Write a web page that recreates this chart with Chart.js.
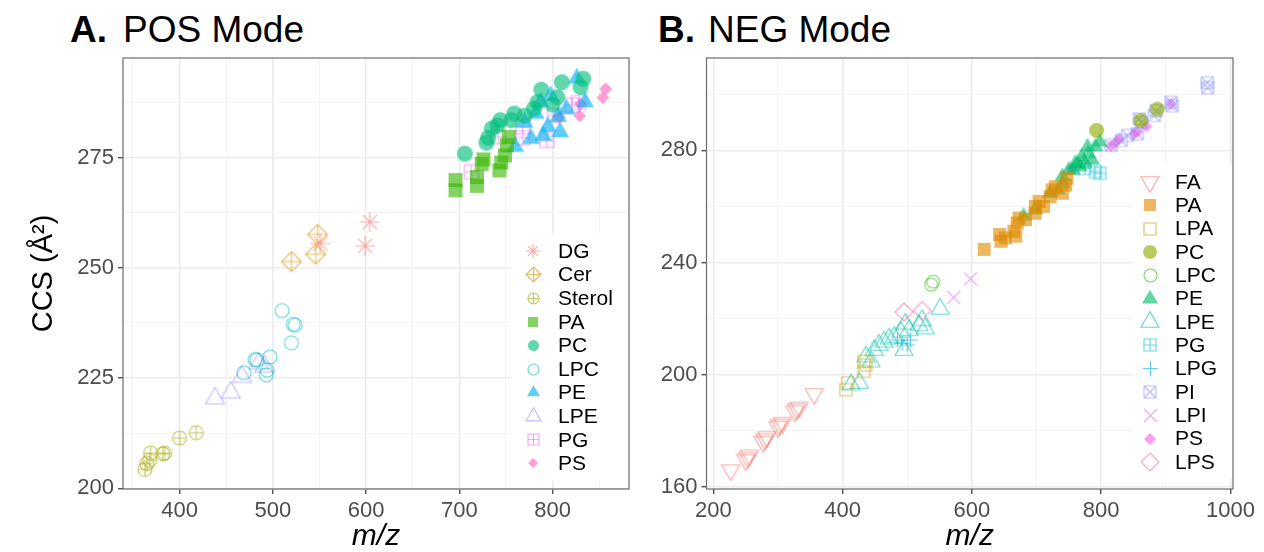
<!DOCTYPE html>
<html>
<head>
<meta charset="utf-8">
<script src="https://cdn.jsdelivr.net/npm/chart.js@4.4.0/dist/chart.umd.min.js"></script>
<style>
  html, body { margin: 0; padding: 0; background: #fff; }
  body { width: 1264px; height: 552px; position: relative; overflow: hidden; font-family: 'Liberation Sans', Arial, sans-serif; }
  canvas { position: absolute; top: 0; }
  .ttl { position: absolute; top: 11px; font-size: 37px; line-height: 1; color: #000; white-space: nowrap; }
  .ttl.b { font-weight: bold; }
</style>
</head>
<body>
<div class="ttl b" style="left:70px">A.</div>
<div class="ttl" style="left:123px">POS Mode</div>
<div class="ttl b" style="left:658px">B.</div>
<div class="ttl" style="left:708px">NEG Mode</div>
<canvas id="pos" width="640" height="552" style="left:0"></canvas>
<canvas id="neg" width="624" height="552" style="left:640px"></canvas>
<script>
// ---------------- DATA: POS mode ----------------
const posClasses = ['DG','Cer','Sterol','PA','PC','LPC','PE','LPE','PG','PS'];
const posDG = [[551,255.5],[599,255.0],[604,260.4]];
const posCer = [[520,251.4],[546,253.1],[548,257.6]];
const posSterol = [[363,204.3],[365,205.6],[368,206.3],[369,208.0],[382,207.8],[384,208.0],[400,211.4],[418,212.6]];
const posPA = [[696,269.9],[696,267.6],[719,270.6],[719,268.6],[724,273.6],[726,274.6],[743,272.1],[745,273.9],[749,275.5],[751,277.8],[753,279.7]];
const posPC = [[706,275.9],[729,278.4],[731,279.5],[735,281.6],[741,282.3],[744,283.5],[756,283.5],[759,285.0],[770,284.5],[780,286.1],[784,287.6],[788,290.4],[800,287.0],[805,288.7],[810,292.1],[830,291.0],[833,292.9]];
const posLPC = [[469,226.2],[481,229.2],[483,229.1],[497,229.8],[494,226.8],[493,225.7],[510,240.3],[522,237.2],[524,237.0],[520,233.0]];
const posPE = [[760,277.5],[777,279.3],[770,283.0],[782,285.0],[787,287.6],[790,280.0],[795,282.0],[798,289.0],[806,284.3],[808,280.8],[815,286.0],[826,293.0],[835,287.6]];
const posLPE = [[438,220.4],[455,221.7],[467,225.3],[485,228.3],[491,227.6]];
const posPG = [[713,271.8],[742,279.7],[768,279.5],[768,282.0],[794,278.9],[802,284.6],[821,286.9],[828,287.5]];
const posPS = [[807,284.2],[829,284.5],[830,287.2],[854,288.6],[857,290.6]];
const posSeries = [posDG,posCer,posSterol,posPA,posPC,posLPC,posPE,posLPE,posPG,posPS];

const posXTicks = [350,400,450,500,550,600,650,700,750,800,850];
const posXLabels = [400,500,600,700,800];
const posYTicks = [212.5,225,237.5,250,262.5,275,287.5];
const posYLabels = [200,225,250,275];

// ---------------- DATA: NEG mode ----------------
const negClasses = ['FA','PA','LPA','PC','LPC','PE','LPE','PG','LPG','PI','LPI','PS','LPS'];
const negFA = [[227,166.0],[250,169.6],[253,170.5],[256,171.3],[277,176.1],[280,177.0],[283,177.8],[300,181.5],[303,182.2],[307,182.9],[326,187.0],[329,187.8],[333,188.4],[356,193.2]];
const negPA = [[619,244.7],[643,250.0],[645,247.6],[652,248.8],[665,251.2],[668,249.4],[670,254.1],[673,255.9],[683,255.3],[698,257.6],[698,260.0],[704,261.8],[711,260.0],[721,263.5],[724,265.9],[729,267.0],[740,264.7],[745,267.6],[747,270.0]];
const negLPA = [[405,194.7],[408,197.1],[433,201.2],[433,204.7],[436,203.5]];
const negPC = [[793,287.1],[861,290.6],[887,294.7]];
const negLPC = [[537,232.1],[540,233.2]];
const negPE = [[680,256.5],[698,258.8],[721,264.7],[733,265.9],[740,270.6],[741,268.2],[750,272.9],[756,272.9],[760,275.3],[764,275.3],[767,274.1],[770,277.6],[775,275.3],[779,281.2],[780,278.8],[786,276.5],[791,281.2],[798,282.9]];
const negLPE = [[413,196.5],[426,197.1],[436,206.5],[444,204.7],[449,208.8],[456,210.6],[464,211.8],[472,212.9],[480,213.5],[490,215.3],[495,208.8],[497,218.2],[503,215.9],[518,217.6],[523,219.4],[528,216.5],[551,223.5]];
const negPG = [[775,273.5],[791,272.4],[798,271.8]];
const negLPG = [[485,212.4],[492,211.2],[500,210.6],[505,212.4]];
const negPI = [[815,281.8],[831,283.5],[841,285.3],[856,285.9],[859,291.2],[862,290.0],[882,292.4],[885,294.1],[908,297.1],[910,295.9],[964,304.1],[965,302.3]];
const negLPI = [[572,227.6],[598,234.2]];
const negPS = [[755,273.5],[815,281.5],[823,282.9],[828,284.1],[851,285.9],[856,286.5],[870,288.5],[908,296.5]];
const negLPS = [[495,222.4],[523,222.9]];
const negSeries = [negFA,negPA,negLPA,negPC,negLPC,negPE,negLPE,negPG,negLPG,negPI,negLPI,negPS,negLPS];

const negXTicks = [200,300,400,500,600,700,800,900,1000];
const negXLabels = [200,400,600,800,1000];
const negYTicks = [160,180,200,220,240,260,280,300];
const negYLabels = [160,200,240,280];

// ---------------- STYLE ----------------
const FONT = "'Liberation Sans', Arial, sans-serif";
const posColors = ['#F8766D','#D89000','#A3A500','#39B600','#00BF7D','#00BFC4','#00B0F6','#9590FF','#E76BF3','#FF62BC'];
const posShapes = ['star','diamondPlus','circlePlus','squareFill','circleFill','circleOpen','triFill','triOpen','squarePlus','diamondFill'];
const posSizes  = [20,20,14,14,16,14,18,19,14,13];
const posKeySizes = [14,15,11,10,11,11,13,15,11,10];
const negColors = ['#F8766D','#E18A00','#BE9C00','#8CAB00','#24B700','#00BE70','#00C1AB','#00BBDA','#00ACFC','#8B93FF','#D575FE','#F962DD','#FF65AC'];
const negShapes = ['triDown','squareFill','squareOpen','circleFill','circleOpen','triFill','triOpen','squarePlus','plus','squareCross','cross','diamondFill','diamondOpen'];
const negSizes  = [18,13,12,15,13,16,18,12,15,12,13,12,18];
const negKeySizes = [18,12,12,14,13,16,18,12,15,12,13,12,18];

function makeIcon(shape, color, s) {
  const pad = 3;
  const dim = Math.ceil(s + 2 * pad);
  const c = document.createElement('canvas');
  c.width = dim; c.height = dim;
  const g = c.getContext('2d');
  g.globalAlpha = 0.62;
  g.translate(dim / 2, dim / 2);
  g.strokeStyle = color; g.fillStyle = color; g.lineWidth = 1.1;
  const r = s / 2, h = s * 0.866;
  g.beginPath();
  switch (shape) {
    case 'star':
      for (let a = 0; a < 4; a++) { const t = a * Math.PI / 4; g.moveTo(r*Math.cos(t), r*Math.sin(t)); g.lineTo(-r*Math.cos(t), -r*Math.sin(t)); }
      g.stroke(); break;
    case 'diamondPlus':
      g.moveTo(0,-r); g.lineTo(r,0); g.lineTo(0,r); g.lineTo(-r,0); g.closePath();
      g.moveTo(0,-r); g.lineTo(0,r); g.moveTo(-r,0); g.lineTo(r,0); g.stroke(); break;
    case 'circlePlus':
      g.arc(0,0,r,0,Math.PI*2); g.moveTo(0,-r); g.lineTo(0,r); g.moveTo(-r,0); g.lineTo(r,0); g.stroke(); break;
    case 'squareFill': g.rect(-r,-r,s,s); g.fill(); break;
    case 'squareOpen': g.rect(-r,-r,s,s); g.stroke(); break;
    case 'squarePlus': g.rect(-r,-r,s,s); g.moveTo(0,-r); g.lineTo(0,r); g.moveTo(-r,0); g.lineTo(r,0); g.stroke(); break;
    case 'squareCross': g.rect(-r,-r,s,s); g.moveTo(-r,-r); g.lineTo(r,r); g.moveTo(r,-r); g.lineTo(-r,r); g.stroke(); break;
    case 'circleFill': g.arc(0,0,r,0,Math.PI*2); g.fill(); break;
    case 'circleOpen': g.arc(0,0,r,0,Math.PI*2); g.stroke(); break;
    case 'triFill': g.moveTo(0,-2*h/3); g.lineTo(r,h/3); g.lineTo(-r,h/3); g.closePath(); g.fill(); break;
    case 'triOpen': g.moveTo(0,-2*h/3); g.lineTo(r,h/3); g.lineTo(-r,h/3); g.closePath(); g.stroke(); break;
    case 'triDown': g.moveTo(0,2*h/3); g.lineTo(r,-h/3); g.lineTo(-r,-h/3); g.closePath(); g.stroke(); break;
    case 'plus': g.moveTo(0,-r); g.lineTo(0,r); g.moveTo(-r,0); g.lineTo(r,0); g.stroke(); break;
    case 'cross': g.moveTo(-r,-r); g.lineTo(r,r); g.moveTo(r,-r); g.lineTo(-r,r); g.stroke(); break;
    case 'diamondFill': g.moveTo(0,-r); g.lineTo(r,0); g.lineTo(0,r); g.lineTo(-r,0); g.closePath(); g.fill(); break;
    case 'diamondOpen': g.moveTo(0,-r); g.lineTo(r,0); g.lineTo(0,r); g.lineTo(-r,0); g.closePath(); g.stroke(); break;
  }
  return c;
}

function has(arr, v) { return arr.some(m => Math.abs(m - v) < 1e-6); }

function buildDatasets(classes, series, colors, shapes, sizes, keySizes) {
  return classes.map((name, i) => ({
    label: name,
    data: series[i].map(([x, y]) => ({ x, y })),
    pointStyle: makeIcon(shapes[i], colors[i], sizes[i]),
    legendIcon: makeIcon(shapes[i], colors[i], keySizes[i]),
    pointRadius: sizes[i] / 2,
    pointHoverRadius: sizes[i] / 2,
    borderColor: colors[i],
    backgroundColor: colors[i],
    showLine: false
  }));
}

// legend (inside the panel) + panel border
const ggPanel = {
  id: 'ggPanel',
  afterDatasetsDraw(chart, args, o) {
    const ctx = chart.ctx, a = chart.chartArea;
    ctx.save();
    ctx.fillStyle = '#fff';
    ctx.fillRect(o.box[0], o.box[1], o.box[2], o.box[3]);
    ctx.font = '21px ' + FONT;
    ctx.textBaseline = 'middle';
    ctx.textAlign = 'left';
    ctx.fillStyle = '#000';
    chart.data.datasets.forEach((ds, i) => {
      const y = o.y0 + i * o.dy;
      const img = ds.legendIcon;
      ctx.drawImage(img, Math.round(o.symX - img.width / 2), Math.round(y - img.height / 2));
      ctx.fillText(ds.label, o.textX, y + 1);
    });
    ctx.strokeStyle = '#6a6a6a';
    ctx.lineWidth = 1.2;
    ctx.strokeRect(a.left, a.top, a.right - a.left, a.bottom - a.top);
    ctx.restore();
  }
};

function axisCfg(min, max, ticks, labels, fitFn, title) {
  return {
    type: 'linear', min, max,
    afterBuildTicks: s => { s.ticks = ticks.concat(labels.filter(v => !has(ticks, v))).filter(v => v >= min && v <= max).sort((p, q) => p - q).map(v => ({ value: v })); },
    afterFit: fitFn,
    border: { display: false },
    grid: {
      drawTicks: true, tickLength: 5,
      color: c => has(labels, c.tick.value) ? '#EBEBEB' : '#F3F3F3',
      lineWidth: c => has(labels, c.tick.value) ? 1.5 : 1,
      tickColor: c => has(labels, c.tick.value) ? '#333333' : 'rgba(0,0,0,0)',
      tickWidth: 1.2
    },
    ticks: {
      autoSkip: false, maxRotation: 0, minRotation: 0, padding: 4,
      color: '#4D4D4D', font: { family: FONT, size: 22 },
      callback: v => has(labels, v) ? String(v) : ''
    },
    title
  };
}

Chart.defaults.font.family = FONT;

new Chart(document.getElementById('pos'), {
  type: 'scatter',
  data: { datasets: buildDatasets(posClasses, posSeries, posColors, posShapes, posSizes, posKeySizes) },
  options: {
    responsive: false, animation: false, devicePixelRatio: 1,
    layout: { padding: { top: 58, right: 4, left: 0, bottom: 0 } },
    plugins: {
      legend: { display: false }, tooltip: { enabled: false },
      ggPanel: { box: [511, 233, 125, 248], symX: 533, textX: 558, y0: 251, dy: 23.6 }
    },
    scales: {
      x: axisCfg(339.4, 882, posXTicks, posXLabels, s => { s.height = 63; },
        { display: true, text: 'm/z', color: '#000', font: { family: FONT, size: 30, style: 'italic', lineHeight: 1 }, padding: { top: 0, bottom: 0 } }),
      y: axisCfg(199.84, 297.6, posYTicks, posYLabels, s => { s.width = 123; },
        { display: true, text: 'CCS (Å²)', color: '#000', font: { family: FONT, size: 29, lineHeight: 1.2 }, padding: { top: 27, bottom: 0 } })
    }
  },
  plugins: [ggPanel]
});

new Chart(document.getElementById('neg'), {
  type: 'scatter',
  data: { datasets: buildDatasets(negClasses, negSeries, negColors, negShapes, negSizes, negKeySizes) },
  options: {
    responsive: false, animation: false, devicePixelRatio: 1,
    layout: { padding: { top: 58, right: 31, left: 0, bottom: 0 } },
    plugins: {
      legend: { display: false }, tooltip: { enabled: false },
      ggPanel: { box: [493, 165, 100, 314], symX: 510, textX: 535, y0: 182, dy: 23.33 }
    },
    scales: {
      x: axisCfg(189.5, 1004, negXTicks, negXLabels, s => { s.height = 63; },
        { display: true, text: 'm/z', color: '#000', font: { family: FONT, size: 30, style: 'italic', lineHeight: 1 }, padding: { top: 0, bottom: 0 } }),
      y: axisCfg(159.3, 312.9, negYTicks, negYLabels, s => { s.width = 66.5; },
        { display: false })
    }
  },
  plugins: [ggPanel]
});
</script>
</body>
</html>
